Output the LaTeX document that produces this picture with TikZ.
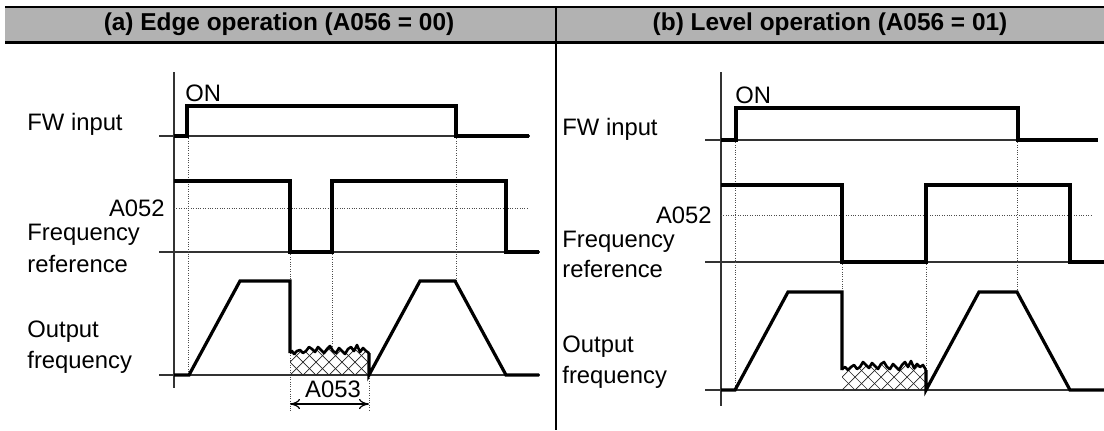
\documentclass[tikz,border=0pt]{standalone}
\usepackage{fontspec}
\setmainfont{Liberation Sans}
\usetikzlibrary{arrows.meta}
\newcommand\noiseA{(0,-22) -- (2,-24) -- (4,-21) -- (7,-24) -- (10,-25) -- (13,-22) -- (16,-24) -- (19,-28) -- (22,-26) -- (25,-23) -- (28,-28) -- (31,-25) -- (34,-22) -- (37,-26) -- (40,-29) -- (43,-24) -- (46,-22) -- (49,-27) -- (52,-24) -- (55,-21) -- (58,-26) -- (61,-28) -- (64,-24) -- (67,-30) -- (70,-23) -- (73,-27) -- (76,-24) -- (79,-22)}
\newcommand\noiseB{(0,-21) -- (3,-23) -- (6,-20) -- (9,-23) -- (12,-25) -- (15,-21) -- (18,-23) -- (21,-28) -- (24,-25) -- (27,-22) -- (30,-27) -- (33,-24) -- (36,-21) -- (39,-26) -- (42,-28) -- (45,-23) -- (48,-21) -- (51,-26) -- (54,-23) -- (57,-20) -- (60,-25) -- (63,-28) -- (66,-23) -- (69,-29) -- (72,-22) -- (75,-26) -- (78,-23) -- (81,-25) -- (84,-20)}
\tikzset{
  sig/.style={line width=1.6pt, line join=miter, black},
  base/.style={line width=0.6pt, black!80},
  dot/.style={line width=0.5pt, black!70, dash pattern=on 0.5pt off 0.7pt},
  hatch/.style={line width=0.35pt, black!85},
  lbl/.style={inner sep=0pt, font=\fontsize{11.9pt}{13pt}\selectfont},
  head/.style={inner sep=0pt, font=\fontsize{12.2pt}{14pt}\selectfont\bfseries}
}
\begin{document}
\begin{tikzpicture}[x=0.5pt, y=-0.5pt]
\useasboundingbox (0,0) rectangle (1104,430);
% header
\fill[black!30] (5,7) rectangle (1104,42);
\draw[line width=1.3pt] (5,7) -- (1104,7);
\draw[line width=1.5pt] (5,42) -- (1104,42);
\draw[line width=1.3pt] (556,7) -- (556,430);
\node[head] (ha) at (279,24.5) {(a) Edge operation (A056 = 00)};
\node[head] (hb) at (830,24.5) {(b) Level operation (A056 = 01)};

% ===== left panel =====
\node[lbl, anchor=base west] (lfw) at (27,130) {FW input};
\node[lbl, anchor=base east] (la52) at (165,216) {A052};
\node[lbl, anchor=base west] (lfr1) at (27,240) {Frequency};
\node[lbl, anchor=base west] (lfr2) at (27,272) {reference};
\node[lbl, anchor=base west] (lof1) at (27,337) {Output};
\node[lbl, anchor=base west] (lof2) at (27,368) {frequency};
\node[lbl, anchor=base west] (lon) at (185,101) {ON};
\node[lbl, anchor=base] (l53) at (333,397) {A053};

\draw[base] (174,72) -- (174,388);
\draw[base] (159,136) -- (530,136);
\draw[base] (159,252) -- (540,252);
\draw[base] (159,375) -- (540,375);
% dotted
\draw[dot] (174,208) -- (528,208);
\draw[dot] (188.5,136) -- (188.5,375);
\draw[dot] (456,136) -- (456,281);
\draw[dot] (290,252) -- (290,411);
\draw[dot] (332,252) -- (332,350);
\draw[dot] (369,352) -- (369,411);
% hatch
\begin{scope}[shift={(290,375)}]
  \begin{scope}
    \clip (0,0) -- \noiseA -- (79,0) -- cycle;
    \foreach \k in {-39,-26,...,117} {
      \draw[hatch] (\k,0) -- (\k+30,-30);
      \draw[hatch] (\k,0) -- (\k-30,-30);
    }
  \end{scope}
  \draw[line width=1.3pt, line join=round] \noiseA;
\end{scope}
% signals
\draw[sig] (174,136) -- (187,136) -- (187,106) -- (456,106) -- (456,136) -- (529,136);
\draw[sig] (174,181) -- (290,181) -- (290,252) -- (332,252) -- (332,181) -- (506,181) -- (506,252) -- (539,252);
\draw[sig] (174,375) -- (189,375) -- (240,281) -- (290,281) -- (290,353);
\draw[sig] (369,353) -- (369,375) -- (420,281) -- (455,281) -- (506,375) -- (539,375);
% A053 arrow
\coordinate (a1) at (290,404);
\coordinate (a2) at (369,404);
\draw[line width=0.6pt, {To[length=5pt,width=5pt]}-{To[length=5pt,width=5pt]}] (a1) -- (a2);

% ===== right panel =====
\node[lbl, anchor=base west] (rfw) at (562,135) {FW input};
\node[lbl, anchor=base east] (ra52) at (712,223) {A052};
\node[lbl, anchor=base west] (rfr1) at (562,247) {Frequency};
\node[lbl, anchor=base west] (rfr2) at (562,277) {reference};
\node[lbl, anchor=base west] (rof1) at (562,352) {Output};
\node[lbl, anchor=base west] (rof2) at (562,383) {frequency};
\node[lbl, anchor=base west] (ron) at (735,103) {ON};

\draw[base] (721,72) -- (721,406);
\draw[base] (705,140) -- (1098,140);
\draw[base] (705,262) -- (1104,262);
\draw[base] (705,390) -- (1094,390);
% dotted
\draw[dot] (721,215) -- (1092,215);
\draw[dot] (735,140) -- (735,390);
\draw[dot] (842,262) -- (842,370);
\draw[dot] (926,262) -- (926,370);
\draw[dot] (1017,140) -- (1017,292);
% hatch
\begin{scope}[shift={(842,390)}]
  \begin{scope}
    \clip (0,0) -- \noiseB -- (84,0) -- cycle;
    \foreach \k in {-39,-26,...,123} {
      \draw[hatch] (\k,0) -- (\k+30,-30);
      \draw[hatch] (\k,0) -- (\k-30,-30);
    }
  \end{scope}
  \draw[line width=1.3pt, line join=round] \noiseB;
\end{scope}
% signals
\draw[sig] (721,140) -- (736,140) -- (736,108) -- (1018,108) -- (1018,140) -- (1098,140);
\draw[sig] (721,185) -- (842,185) -- (842,262) -- (926,262) -- (926,185) -- (1070,185) -- (1070,262) -- (1104,262);
\draw[sig] (721,390) -- (735,390) -- (788,292) -- (842,292) -- (842,370);
\draw[sig] (926,370) -- (926,390) -- (979,292) -- (1017,292) -- (1070,390) -- (1104,390);
\end{tikzpicture}
\end{document}
